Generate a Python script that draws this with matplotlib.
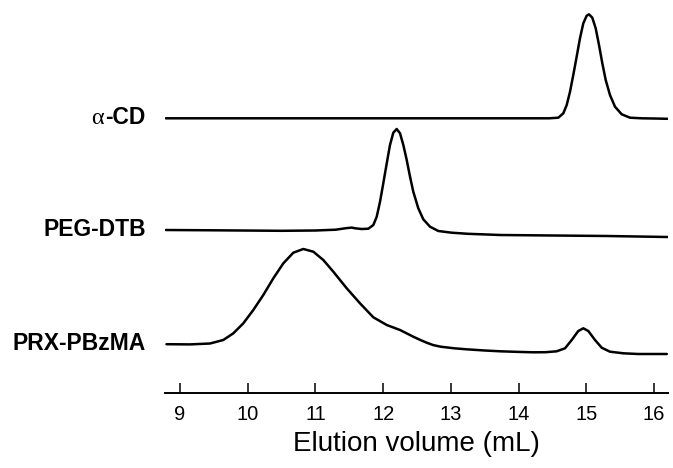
import matplotlib
matplotlib.use("Agg")
import matplotlib.pyplot as plt

# ---- data (signal in arbitrary units, relative to each baseline) ----
acd_x = [8.79, 10.0, 11.0, 12.0, 13.0, 14.0, 14.45, 14.587, 14.661, 14.711, 14.760, 14.808,
         14.858, 14.907, 14.956, 15.006, 15.040, 15.089, 15.139, 15.188, 15.237, 15.287,
         15.350, 15.424, 15.523, 15.646, 15.818, 16.0, 16.20]
acd_y = [0, 0, 0, 0, 0, 0, 0, 0.6, 5, 13.3, 26.6, 43.3, 61.6, 80, 95, 102.6, 104, 100.6,
         90, 73.3, 55, 38.3, 23.3, 11.6, 4, 0.6, 0, -0.2, -0.5]

peg_x = [8.79, 9.5, 10.5, 11.0, 11.30, 11.45, 11.536, 11.584, 11.683, 11.781, 11.855,
         11.905, 11.954, 12.002, 12.053, 12.101, 12.150, 12.200, 12.249, 12.298, 12.348,
         12.397, 12.445, 12.519, 12.593, 12.692, 12.815, 13.012, 13.25, 13.73, 14.5, 15.3,
         16.20]
peg_y = [0, -0.3, -0.8, -0.5, 0.3, 1.8, 2.4, 1.7, 1.0, 1.3, 5, 13.3, 28.3, 46.7, 66.7, 85,
         97.3, 101, 96.7, 85, 70, 53.3, 38.3, 21.7, 10.7, 3.3, -1, -2.7, -3.8, -5, -5.5, -6,
         -7]

prx_x = [8.80, 9.148, 9.443, 9.639, 9.787, 9.935, 10.082, 10.230, 10.378, 10.526, 10.673,
         10.821, 10.969, 11.116, 11.264, 11.462, 11.658, 11.855, 12.053, 12.249, 12.445,
         12.55, 12.643, 12.74, 12.85, 13.05, 13.23, 13.50, 13.73, 14.00, 14.22, 14.40,
         14.563, 14.686, 14.785, 14.882, 14.956, 15.030, 15.129, 15.228, 15.350, 15.547,
         15.768, 16.19]
prx_y = [0.3, 0.1, 1.0, 4.5, 11.2, 21.2, 34.5, 49.5, 66.2, 81.2, 91.8, 95.5, 92.8, 84.5,
         72.8, 56.2, 41.2, 27.2, 19.5, 14.5, 7.8, 4.5, 1.8, -0.6, -2.2, -3.8, -4.8, -6.0,
         -6.8, -7.4, -7.8, -7.7, -6.8, -3.8, 4.5, 13.5, 16.2, 13.5, 4.5, -3.2, -7.2, -8.8,
         -9.5, -9.5]

acd_offset = 274.7
peg_offset = 163
prx_offset = 48.5

labels = ["-CD", "PEG-DTB", "PRX-PBzMA"]
xticks = [9, 10, 11, 12, 13, 14, 15, 16]
xlabel = "Elution volume (mL)"

# ---- figure ----
W, H = 673, 468
fig = plt.figure(figsize=(W / 100, H / 100), dpi=100)
ax_left, ax_right = 165 / W, 668 / W
ax_bottom = (H - 393) / H
ax = fig.add_axes([ax_left, ax_bottom, ax_right - ax_left, 1 - ax_bottom])
ax.set_xlim(8.778, 16.207)
ax.set_ylim(0, 393)

for xs, ys, off in [(acd_x, acd_y, acd_offset), (peg_x, peg_y, peg_offset),
                    (prx_x, prx_y, prx_offset)]:
    ax.plot(xs, [v + off for v in ys], color="black", lw=1.8,
            solid_joinstyle="round", solid_capstyle="round")

for s in ["top", "right", "left"]:
    ax.spines[s].set_visible(False)
ax.spines["bottom"].set_linewidth(1.4)
ax.set_yticks([])
ax.set_xticks(xticks)
ax.set_xticklabels([str(t) for t in xticks], family="Liberation Sans", fontsize=14.5)
ax.tick_params(axis="x", direction="in", length=7.2, width=1.1, pad=9)
ax.set_xlabel(xlabel, family="Liberation Sans", fontsize=20, labelpad=5)

# labels
def fx(px):
    return px / W

def fy(py):
    return 1 - py / H

fig.text(fx(146), fy(118), "-CD", ha="right", va="center", family="Liberation Sans",
         fontweight="bold", fontsize=16.5)
fig.text(fx(104), fy(118), "α", ha="right", va="center", family="Liberation Serif",
         fontsize=17.5)
fig.text(fx(146), fy(230), labels[1], ha="right", va="center", family="Liberation Sans",
         fontweight="bold", fontsize=16.5)
fig.text(fx(146), fy(344), labels[2], ha="right", va="center", family="Liberation Sans",
         fontweight="bold", fontsize=16.5)

fig.savefig("out.png", dpi=100)
